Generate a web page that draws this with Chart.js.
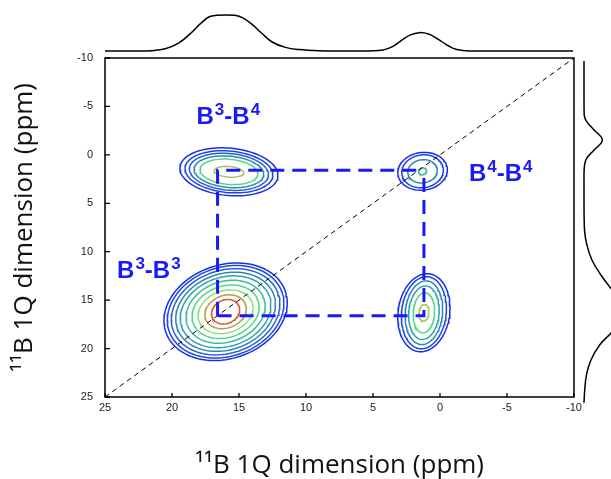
<!DOCTYPE html>
<html><head><meta charset="utf-8">
<script src="https://cdn.jsdelivr.net/npm/chart.js@4"></script>
<style>
html,body{margin:0;padding:0;background:#fff;}
#wrap{position:relative;width:611px;height:479px;overflow:hidden;background:#fff;}
canvas{position:absolute;}
</style></head><body>
<div id="wrap">
<canvas id="main" width="611" height="479" style="left:0;top:0;width:611px;height:479px"></canvas>
<canvas id="topc" width="611" height="58" style="left:0;top:0;width:611px;height:58px"></canvas>
<canvas id="side" width="37" height="479" style="left:574px;top:0;width:37px;height:479px"></canvas>
</div>
<script>
// ---------- data ----------
const xTicks = [25, 20, 15, 10, 5, 0, -5, -10];
const yTicks = [-10, -5, 0, 5, 10, 15, 20, 25];
const axisTitle = '\u00B9\u00B9B 1Q dimension (ppm)';

// contour peaks (ppm)
const peakNames   = ['B3-B3', 'B3-B4', 'B4-B3', 'B4-B4'];
const peakCenterX = [16.0, 15.75, 1.2, 1.3];
const peakCenterY = [16.2, 1.75, 16.3, 1.7];
const peakTilt    = [0.2, -0.1, 0.25, 0.08];
const ringRx = [
  [4.6, 4.35, 4.05, 3.72, 3.38, 2.95, 2.5, 2.05, 1.55, 1.05],
  [3.66, 3.28, 2.95, 2.6, 2.16, 1.1],
  [1.95, 1.68, 1.4, 1.14, 0.8, 0.37],
  [1.85, 1.55, 1.1, 0.3]
];
const ringRy = [
  [4.95, 4.7, 4.38, 4.02, 3.65, 3.2, 2.72, 2.22, 1.72, 1.25],
  [2.45, 2.15, 1.9, 1.62, 1.3, 0.55],
  [4.0, 3.7, 3.27, 2.75, 2.06, 0.86],
  [1.95, 1.7, 1.2, 0.35]
];
const ringLevel = [
  [0, 1, 2, 3, 4, 5, 6, 7, 9, 10],
  [0, 1, 2, 3, 6, 8],
  [0, 1, 3, 4, 6, 8],
  [0, 1, 3, 5]
];
const levelColors = ['#1530e8','#1f44e0','#2860d0','#2e86b4','#33a2a8','#3cbc9c',
                     '#58d488','#86e27c','#a8c468','#b89a50','#d8582c'];

// correlation square and diagonal
const rectX = [16.6, 1.2];
const rectY = [1.6, 16.6];
const diagX = [25, -10];
const diagY = [25, -10];

// projections
const topPpm = [25, 23, 21.5, 20.5, 19.5, 18.6, 17.8, 17.2, 16.6, 16.0, 15.3, 14.7, 14.0, 13.3, 12.5, 11.5, 10.5, 9, 6, 4.2, 3.5, 2.8, 2.2, 1.5, 0.8, 0.1, -0.6, -1.3, -2.5, -5, -8, -10];
const topInt = [0, 0, 0.01, 0.06, 0.22, 0.49, 0.78, 0.95, 0.99, 1.0, 0.99, 0.92, 0.74, 0.5, 0.25, 0.1, 0.04, 0.01, 0, 0.03, 0.12, 0.3, 0.44, 0.51, 0.47, 0.33, 0.16, 0.04, 0, 0, 0, 0];
const sidePpm = [-9.7, -6, -4.1, -3.4, -2.57, -1.53, -0.5, 0.32, 1.05, 2.1, 5, 7.76, 9.3, 10.85, 12.4, 13.95, 15.0, 16.1, 17.3, 18.4, 19.6, 21.2, 22.7, 24.3, 25.6];
const sideInt = [0, 0, 0.005, 0.08, 0.28, 0.51, 0.28, 0.08, 0.015, 0, 0, 0.014, 0.08, 0.22, 0.47, 0.78, 1.0, 1.11, 1.0, 0.75, 0.44, 0.19, 0.07, 0.02, 0];

// peak labels
const labelX = [18.17, -2.16, 24.1];
const labelY = [-3.19, 2.70, 12.71];
const labelSup1 = ['3', '4', '3'];
const labelSup2 = ['4', '4', '3'];

// ---------- build ----------
const BLUE = '#1a1af5';
function ring(cx, cy, rx, ry, tilt) {
  const pts = [];
  const n = 96;
  for (let i = 0; i <= n; i++) {
    const t = i / n * 2 * Math.PI;
    const dx = rx * Math.cos(t);
    pts.push({x: cx + dx, y: cy + ry * Math.sin(t) + tilt * dx});
  }
  return pts;
}

const datasets = [];
datasets.push({data: [{x: rectX[0], y: rectY[1]}, {x: rectX[0], y: rectY[0]}, {x: rectX[1], y: rectY[0]}],
  borderColor: BLUE, borderWidth: 3, borderDash: [14, 8], showLine: true, pointRadius: 0, fill: false, tension: 0});
datasets.push({data: [{x: rectX[0], y: rectY[1]}, {x: rectX[1], y: rectY[1]}, {x: rectX[1], y: rectY[0]}],
  borderColor: BLUE, borderWidth: 3, borderDash: [14, 8], showLine: true, pointRadius: 0, fill: false, tension: 0});
datasets.push({data: [{x: diagX[0], y: diagY[0]}, {x: diagX[1], y: diagY[1]}],
  borderColor: '#000', borderWidth: 1, borderDash: [5, 4], showLine: true, pointRadius: 0, fill: false, tension: 0});
for (let p = 0; p < peakNames.length; p++) {
  for (let r = ringRx[p].length - 1; r >= 0; r--) {
    datasets.push({label: peakNames[p], data: ring(peakCenterX[p], peakCenterY[p], ringRx[p][r], ringRy[p][r], peakTilt[p]),
      borderColor: levelColors[ringLevel[p][r]], borderWidth: 1.5, showLine: true, pointRadius: 0, fill: false, tension: 0});
  }
}

const decor = {
  id: 'decor',
  afterDatasetsDraw(chart) {
    const ctx = chart.ctx, a = chart.chartArea;
    const xs = chart.scales.x, ys = chart.scales.y;
    ctx.save();
    ctx.strokeStyle = '#000';
    ctx.lineWidth = 1.5;
    ctx.setLineDash([]);
    ctx.strokeRect(a.left, a.top, a.right - a.left, a.bottom - a.top);
    ctx.lineWidth = 1.3;
    ctx.beginPath();
    xTicks.forEach(v => { const px = xs.getPixelForValue(v); ctx.moveTo(px, a.bottom); ctx.lineTo(px, a.bottom - 4); });
    yTicks.forEach(v => { const py = ys.getPixelForValue(v); ctx.moveTo(a.left, py); ctx.lineTo(a.left + 5, py); });
    ctx.stroke();
    ctx.fillStyle = BLUE;
    ctx.textBaseline = 'alphabetic';
    ctx.textAlign = 'left';
    for (let i = 0; i < labelX.length; i++) {
      let x = xs.getPixelForValue(labelX[i]);
      const y = ys.getPixelForValue(labelY[i]);
      const parts = [['B', false], [labelSup1[i], true], ['-', false], ['B', false], [labelSup2[i], true]];
      parts.forEach(([t, sup]) => {
        ctx.font = sup ? 'bold 17px "Liberation Sans", Arial, sans-serif' : 'bold 24px "Liberation Sans", Arial, sans-serif';
        ctx.fillText(t, x + (sup ? 1 : 0), sup ? y - 9 : y);
        x += ctx.measureText(t).width + (sup ? 1 : 0);
      });
    }
    ctx.restore();
  }
};

const tickFont = {family: '"Liberation Sans", Arial, sans-serif', size: 11};
const titleFont = {family: '"Open Sans", Lato, sans-serif', size: 26, lineHeight: 1};

new Chart(document.getElementById('main'), {
  type: 'scatter',
  data: {datasets},
  options: {
    responsive: false, animation: false, devicePixelRatio: 1,
    layout: {padding: {top: 58, right: 37, left: 0, bottom: 0}},
    plugins: {legend: {display: false}, tooltip: {enabled: false}},
    scales: {
      x: {type: 'linear', reverse: true, min: xTicks[xTicks.length - 1], max: xTicks[0],
        afterBuildTicks: s => { s.ticks = xTicks.map(v => ({value: v})); },
        afterFit: s => { s.height = 82; },
        grid: {display: false, drawTicks: false}, border: {display: false},
        ticks: {padding: 4, color: '#222', font: tickFont, autoSkip: false, maxRotation: 0},
        title: {display: true, text: axisTitle, color: '#111', font: titleFont, padding: {top: 0, bottom: 0}}},
      y: {type: 'linear', reverse: true, min: yTicks[0], max: yTicks[yTicks.length - 1],
        afterBuildTicks: s => { s.ticks = yTicks.map(v => ({value: v})); },
        afterFit: s => { s.width = 105; },
        grid: {display: false, drawTicks: false}, border: {display: false},
        ticks: {padding: 12, color: '#222', font: tickFont, autoSkip: false},
        title: {display: true, text: axisTitle, color: '#111', font: titleFont, padding: {top: 12, bottom: 0}}}
    }
  },
  plugins: [decor]
});

new Chart(document.getElementById('topc'), {
  type: 'scatter',
  data: {datasets: [{data: topPpm.map((p, i) => ({x: p, y: topInt[i]})), borderColor: '#000', borderWidth: 1.5,
    showLine: true, pointRadius: 0, tension: 0.4, fill: false, clip: false}]},
  options: {
    responsive: false, animation: false, devicePixelRatio: 1,
    layout: {padding: {top: 15, bottom: 7, left: 105, right: 38}},
    plugins: {legend: {display: false}, tooltip: {enabled: false}},
    scales: {
      x: {display: false, type: 'linear', reverse: true, min: xTicks[xTicks.length - 1], max: xTicks[0]},
      y: {display: false, type: 'linear', min: 0, max: 1}
    }
  }
});

new Chart(document.getElementById('side'), {
  type: 'scatter',
  data: {datasets: [{data: sidePpm.map((p, i) => ({x: sideInt[i], y: p})), borderColor: '#000', borderWidth: 1.5,
    showLine: true, pointRadius: 0, tension: 0.4, fill: false, clip: false}]},
  options: {
    responsive: false, animation: false, devicePixelRatio: 1,
    layout: {padding: {top: 58, bottom: 82, left: 10, right: 0}},
    plugins: {legend: {display: false}, tooltip: {enabled: false}},
    scales: {
      x: {display: false, type: 'linear', min: 0, max: 0.75},
      y: {display: false, type: 'linear', reverse: true, min: yTicks[0], max: yTicks[yTicks.length - 1]}
    }
  }
});
</script>
</body></html>
